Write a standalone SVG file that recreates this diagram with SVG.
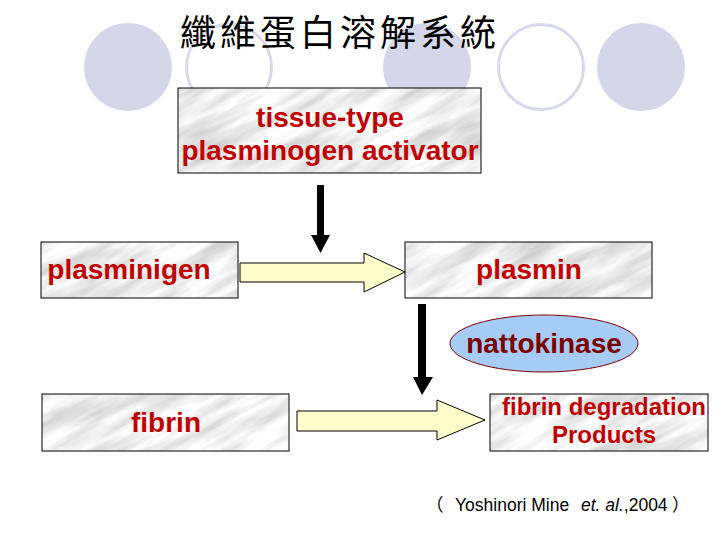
<svg xmlns="http://www.w3.org/2000/svg" width="720" height="540" viewBox="0 0 720 540">
  <defs>
    <filter id="mtex" x="0" y="0" width="1" height="1" filterUnits="objectBoundingBox">
      <feTurbulence type="fractalNoise" baseFrequency="0.012 0.07" numOctaves="4" seed="7" stitchTiles="stitch" result="n"/>
      <feColorMatrix in="n" type="matrix" values="0.8 0 0 0 0.46  0.8 0 0 0 0.46  0.8 0 0 0 0.46  0 0 0 0 1"/>
    </filter>
    <pattern id="marble" patternUnits="userSpaceOnUse" width="240" height="120" patternTransform="rotate(-28)">
      <rect width="240" height="120" fill="#e8e8e8" filter="url(#mtex)"/>
    </pattern>
  </defs>
  <style>
    .box { fill: url(#marble); stroke: #000; stroke-width: 1; }
    .lbl { font-family: "Liberation Sans", Arial, sans-serif; font-weight: bold; fill: #c00000; text-anchor: middle; }
    .deco { fill: #d6d6ea; }
    .ring { fill: none; stroke: #d8d8ec; stroke-width: 3; }
    .blk { fill: #ffffcc; stroke: #000; stroke-width: 1; }
    .down { fill: #000; }
  </style>

  <g id="background">
    <circle class="deco" cx="128" cy="67" r="44"/>
    <circle class="ring" cx="229" cy="67" r="42.5"/>
    <circle class="deco" cx="427" cy="67" r="44"/>
    <circle class="ring" cx="541" cy="67" r="42.5"/>
    <circle class="deco" cx="641" cy="67" r="44"/>
  </g>

  <g id="title">
    <text x="180" y="46" font-family="'Liberation Serif', 'Noto Sans CJK TC', serif" font-size="36" letter-spacing="4" fill="#000">纖維蛋白溶解系統</text>
  </g>

  <g id="connectors">
    <polygon class="blk" points="240,263 364,263 364,253 405,272 364,292 364,282 240,282"/>
    <polygon class="blk" points="297,411 437,411 437,400 485,420 437,440 437,431 297,431"/>
    <polygon class="down" points="317,185 324,185 324,235 330,235 320.5,253 311,235 317,235"/>
    <polygon class="down" points="418,304 426,304 426,377 433,377 422,395 413,377 418,377"/>
  </g>

  <g id="tpa">
    <rect class="box" x="178" y="88" width="303" height="85"/>
    <text class="lbl" x="330" y="127" font-size="28">tissue-type</text>
    <text class="lbl" x="330" y="160" font-size="28">plasminogen activator</text>
  </g>

  <g id="plasminigen">
    <rect class="box" x="41" y="242" width="197" height="56"/>
    <text class="lbl" x="129" y="279" font-size="28">plasminigen</text>
  </g>

  <g id="plasmin">
    <rect class="box" x="405" y="242" width="247" height="56"/>
    <text class="lbl" x="529" y="279" font-size="28">plasmin</text>
  </g>

  <g id="nattokinase">
    <ellipse cx="544" cy="343.5" rx="94" ry="28.5" fill="#a6cbf5" stroke="#800000" stroke-width="1"/>
    <text class="lbl" x="544" y="353" font-size="28" style="fill:#7a0000">nattokinase</text>
  </g>

  <g id="fibrin">
    <rect class="box" x="42" y="394" width="247" height="57"/>
    <text class="lbl" x="166" y="432" font-size="28">fibrin</text>
  </g>

  <g id="fdp">
    <rect class="box" x="490" y="394" width="218" height="57"/>
    <text class="lbl" x="604" y="415" font-size="24">fibrin degradation</text>
    <text class="lbl" x="604" y="443" font-size="24">Products</text>
  </g>

  <g id="citation">
    <text y="511" font-family="'Liberation Sans', 'Noto Sans CJK TC', sans-serif" font-size="17.5" fill="#000"><tspan x="426" font-family="'Noto Sans CJK TC', sans-serif">（</tspan><tspan x="455">Yoshinori Mine</tspan><tspan x="581" font-style="italic">et. al.</tspan><tspan>,2004</tspan><tspan x="672" font-family="'Noto Sans CJK TC', sans-serif">）</tspan></text>
  </g>
</svg>
